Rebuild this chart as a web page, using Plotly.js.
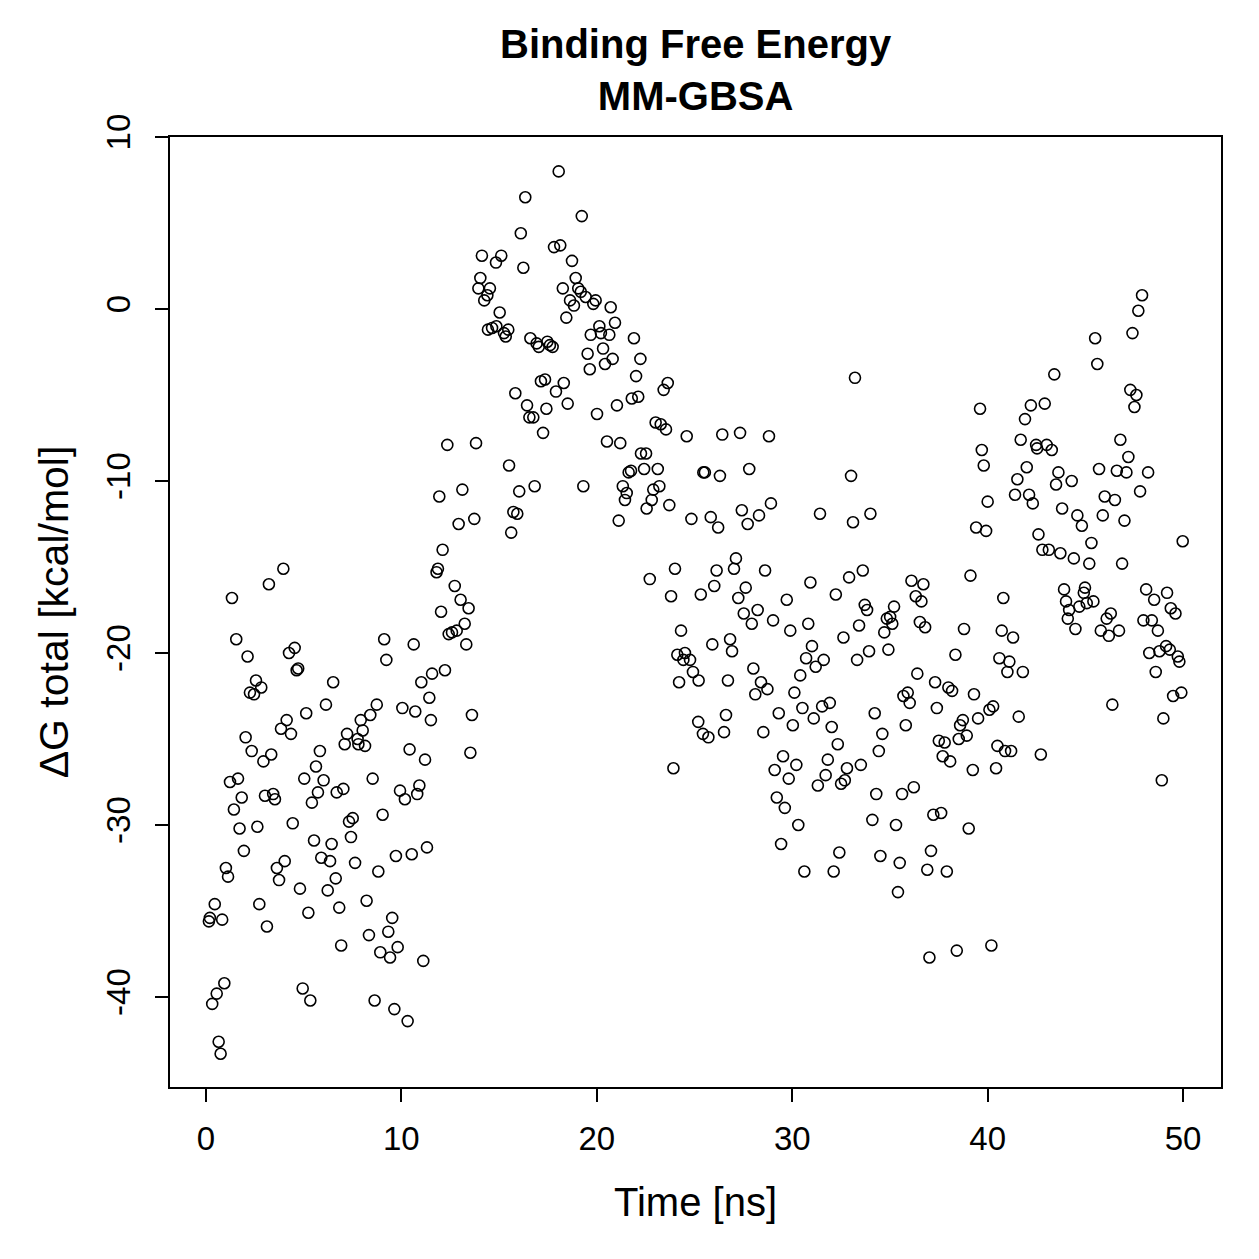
<!DOCTYPE html>
<html>
<head>
<meta charset="utf-8">
<script src="https://cdn.plot.ly/plotly-3.0.1.min.js"></script>
<style>html,body{margin:0;padding:0;background:#fff;}#chart{width:1259px;height:1259px;}</style>
</head>
<body>
<div id="chart"></div>
<script>
// Time [ns]
const timeNs = [
0.15,0.20,0.32,0.45,0.55,0.65,0.75,0.83,0.94,1.02,
1.13,1.23,1.33,1.43,1.55,1.64,1.72,1.83,1.94,2.03,
2.13,2.25,2.34,2.46,2.56,2.63,2.73,2.83,2.94,3.02,
3.12,3.22,3.34,3.44,3.53,3.63,3.74,3.84,3.96,4.03,
4.13,4.25,4.35,4.44,4.54,4.64,4.72,4.81,4.95,5.03,
5.13,5.24,5.34,5.42,5.53,5.63,5.73,5.83,5.90,6.02,
6.14,6.23,6.35,6.43,6.51,6.64,6.69,6.82,6.92,7.03,
7.10,7.22,7.32,7.42,7.51,7.63,7.76,7.80,7.92,8.02,
8.14,8.22,8.34,8.41,8.53,8.63,8.74,8.82,8.92,9.04,
9.12,9.23,9.33,9.42,9.53,9.64,9.72,9.81,9.93,10.05,
10.18,10.32,10.42,10.53,10.63,10.71,10.81,10.92,11.02,11.12,
11.21,11.31,11.43,11.51,11.57,11.80,11.87,11.94,12.03,12.11,
12.23,12.35,12.42,12.59,12.73,12.83,12.93,13.03,13.12,13.24,
13.32,13.44,13.53,13.61,13.73,13.82,13.94,14.04,14.12,14.24,
14.40,14.43,14.53,14.64,14.84,14.86,15.03,15.11,15.25,15.34,
15.47,15.51,15.62,15.73,15.83,15.93,16.03,16.11,16.24,16.34,
16.43,16.55,16.60,16.75,16.82,16.92,17.03,17.14,17.25,17.35,
17.42,17.47,17.60,17.74,17.81,17.91,18.05,18.13,18.26,18.31,
18.44,18.51,18.63,18.73,18.83,18.92,19.05,19.18,19.23,19.31,
19.43,19.53,19.64,19.69,19.82,19.94,20.01,20.13,20.21,20.32,
20.42,20.52,20.64,20.71,20.81,20.93,21.03,21.12,21.20,21.33,
21.44,21.53,21.63,21.75,21.79,21.90,22.01,22.12,22.23,22.26,
22.42,22.52,22.55,22.71,22.81,22.89,23.01,23.12,23.20,23.27,
23.42,23.54,23.63,23.71,23.80,23.92,24.00,24.12,24.21,24.31,
24.43,24.51,24.60,24.77,24.84,24.92,25.19,25.21,25.32,25.43,
25.45,25.53,25.71,25.83,25.91,26.01,26.13,26.21,26.30,26.42,
26.51,26.61,26.71,26.82,26.92,27.02,27.12,27.24,27.33,27.42,
27.52,27.62,27.72,27.80,27.93,28.01,28.11,28.23,28.30,28.40,
28.52,28.61,28.73,28.81,28.91,29.02,29.10,29.21,29.31,29.43,
29.53,29.62,29.72,29.82,29.90,30.03,30.11,30.21,30.31,30.41,
30.52,30.62,30.71,30.82,30.93,31.01,31.10,31.20,31.31,31.42,
31.53,31.61,31.71,31.82,31.92,32.02,32.12,32.23,32.33,32.41,
32.50,32.62,32.69,32.80,32.91,33.01,33.11,33.21,33.32,33.42,
33.51,33.61,33.71,33.83,33.93,34.00,34.10,34.22,34.30,34.43,
34.51,34.61,34.71,34.84,34.92,35.01,35.12,35.21,35.31,35.41,
35.50,35.62,35.69,35.81,35.91,36.01,36.10,36.22,36.32,36.40,
36.53,36.61,36.71,36.80,36.91,37.02,37.10,37.22,37.31,37.40,
37.50,37.62,37.70,37.80,37.91,37.99,38.08,38.18,38.35,38.42,
38.52,38.59,38.73,38.79,38.93,39.03,39.12,39.24,39.30,39.41,
39.51,39.61,39.70,39.80,39.92,40.00,40.09,40.19,40.28,40.43,
40.50,40.60,40.72,40.80,40.89,41.01,41.11,41.20,41.30,41.40,
41.52,41.59,41.69,41.80,41.91,42.00,42.12,42.21,42.31,42.48,
42.53,42.60,42.72,42.80,42.92,43.02,43.13,43.28,43.41,43.50,
43.62,43.72,43.81,43.91,44.01,44.10,44.17,44.30,44.41,44.49,
44.59,44.69,44.82,44.92,44.98,45.07,45.20,45.31,45.41,45.50,
45.61,45.70,45.79,45.89,45.99,46.09,46.20,46.30,46.38,46.51,
46.61,46.72,46.79,46.88,47.00,47.10,47.20,47.30,47.41,47.51,
47.61,47.71,47.80,47.90,47.97,48.11,48.21,48.27,48.40,48.52,
48.60,48.71,48.79,48.91,48.99,49.13,49.18,49.32,49.37,49.49,
49.61,49.73,49.81,49.91,49.98
];

// ΔG total [kcal/mol]
const deltaG = [
-35.6,-35.4,-40.4,-34.6,-39.8,-42.6,-43.3,-35.5,-39.2,-32.5,
-33.0,-27.5,-16.8,-29.1,-19.2,-27.3,-30.2,-28.4,-31.5,-24.9,
-20.2,-22.3,-25.7,-22.4,-21.6,-30.1,-34.6,-22.0,-26.3,-28.3,
-35.9,-16.0,-25.9,-28.2,-28.5,-32.5,-33.2,-24.4,-15.1,-32.1,
-23.9,-20.0,-24.7,-29.9,-19.7,-21.0,-20.9,-33.7,-39.5,-27.3,
-23.5,-35.1,-40.2,-28.7,-30.9,-26.6,-28.1,-25.7,-31.9,-27.4,
-23.0,-33.8,-32.1,-31.1,-21.7,-33.1,-28.1,-34.8,-37.0,-27.9,
-25.3,-24.7,-29.8,-30.7,-29.6,-32.2,-25.0,-25.3,-23.9,-24.5,
-25.4,-34.4,-36.4,-23.6,-27.3,-40.2,-23.0,-32.7,-37.4,-29.4,
-19.2,-20.4,-36.2,-37.7,-35.4,-40.7,-31.8,-37.1,-28.0,-23.2,
-28.5,-41.4,-25.6,-31.7,-19.5,-23.4,-28.2,-27.7,-21.7,-37.9,
-26.2,-31.3,-22.6,-23.9,-21.2,-15.3,-15.1,-10.9,-17.6,-14.0,
-21.0,-7.9,-18.9,-18.8,-16.1,-18.7,-12.5,-16.9,-10.5,-18.3,
-19.5,-17.4,-25.8,-23.6,-12.2,-7.8,1.2,1.8,3.1,0.5,
0.8,-1.2,1.2,-1.1,2.7,-1.0,-0.2,3.1,-1.4,-1.6,
-1.2,-9.1,-13.0,-11.8,-4.9,-11.9,-10.6,4.4,2.4,6.5,
-5.6,-6.3,-1.7,-6.3,-10.3,-2.0,-2.2,-4.2,-7.2,-4.1,
-5.8,-1.9,-2.1,-2.2,3.6,-4.8,8.0,3.7,1.2,-4.3,
-0.5,-5.5,0.5,2.8,0.2,1.8,1.2,1.0,5.4,-10.3,
0.7,-2.6,-3.5,-1.5,0.3,0.5,-6.1,-1.0,-1.4,-2.3,
-3.2,-7.7,-1.5,0.1,-2.9,-0.8,-5.6,-12.3,-7.8,-10.3,
-11.1,-10.7,-9.5,-9.4,-5.2,-1.7,-3.9,-5.1,-2.9,-8.4,
-9.3,-8.4,-11.6,-15.7,-11.1,-10.5,-6.6,-9.3,-10.3,-6.7,
-4.7,-7.0,-4.3,-11.4,-16.7,-26.7,-15.1,-20.1,-21.7,-18.7,
-20.4,-20.0,-7.4,-20.4,-12.2,-21.1,-24.0,-21.6,-16.6,-24.7,
-9.5,-9.5,-24.9,-12.1,-19.5,-16.1,-15.2,-12.7,-9.7,-7.3,
-24.6,-23.6,-21.6,-19.2,-19.9,-15.1,-14.5,-16.8,-7.2,-11.7,
-17.7,-16.2,-12.5,-9.3,-18.3,-20.9,-22.4,-17.5,-12.0,-21.7,
-24.6,-15.2,-22.1,-7.4,-11.3,-18.1,-26.8,-28.4,-23.5,-31.1,
-26.0,-29.0,-16.9,-27.3,-18.7,-24.2,-22.3,-26.5,-30.0,-21.3,
-23.2,-32.7,-20.3,-18.3,-15.9,-19.6,-23.8,-20.8,-27.7,-11.9,
-23.1,-20.4,-27.1,-26.2,-22.9,-24.3,-32.7,-16.6,-25.3,-31.6,
-27.6,-19.1,-27.4,-26.7,-15.6,-9.7,-12.4,-4.0,-20.4,-18.4,
-26.5,-15.2,-17.2,-17.5,-19.9,-11.9,-29.7,-23.5,-28.2,-25.7,
-31.8,-24.7,-18.8,-18.0,-19.8,-17.9,-18.3,-17.3,-30.0,-33.9,
-32.2,-28.2,-22.5,-24.2,-22.3,-22.9,-15.8,-27.8,-16.7,-21.2,
-18.2,-17.0,-16.0,-18.5,-32.6,-37.7,-31.5,-29.4,-21.7,-23.2,
-25.1,-29.3,-26.0,-25.2,-32.7,-22.0,-26.3,-22.2,-20.1,-37.3,
-25.0,-24.2,-23.9,-18.6,-24.8,-30.2,-15.5,-26.8,-22.4,-12.7,
-23.8,-5.8,-8.2,-9.1,-12.9,-11.2,-23.3,-37.0,-23.1,-26.7,
-25.4,-20.3,-18.7,-16.8,-25.7,-21.1,-20.5,-25.7,-19.1,-10.8,
-9.9,-23.7,-7.6,-21.1,-6.4,-9.2,-10.8,-5.6,-11.3,-7.9,
-8.1,-13.1,-25.9,-14.0,-5.5,-7.9,-14.0,-8.2,-3.8,-10.2,
-9.5,-14.2,-11.6,-16.3,-17.0,-18.0,-17.5,-10.0,-14.5,-18.6,
-12.0,-17.3,-12.6,-16.5,-16.2,-17.1,-14.8,-13.6,-17.0,-1.7,
-3.2,-9.3,-18.7,-12.0,-10.9,-18.0,-19.0,-17.7,-23.0,-11.1,
-9.4,-18.7,-7.6,-14.8,-12.3,-9.5,-8.6,-4.7,-1.4,-5.7,
-5.0,-0.1,-10.6,0.8,-18.1,-16.3,-9.5,-20.0,-18.1,-16.9,
-21.1,-18.7,-19.9,-27.4,-23.8,-19.6,-16.5,-19.8,-17.4,-22.5,
-17.7,-20.2,-20.5,-22.3,-13.5
];

const xTickVals = [0, 10, 20, 30, 40, 50];
const xTickText = ['0', '10', '20', '30', '40', '50'];
const yTickVals = [-40, -30, -20, -10, 0, 10];
const yTickText = ['-40', '-30', '-20', '-10', '0', '10'];

const FONT = '"Liberation Sans", Arial, Helvetica, sans-serif';

const trace = {
  x: timeNs,
  y: deltaG,
  type: 'scatter',
  mode: 'markers',
  marker: {
    symbol: 'circle-open',
    size: 11,
    color: '#000',
    line: {color: '#000', width: 1.6}
  },
  hoverinfo: 'x+y'
};

const layout = {
  width: 1259,
  height: 1259,
  paper_bgcolor: '#fff',
  plot_bgcolor: '#fff',
  showlegend: false,
  margin: {l: 170, r: 38, t: 137, b: 172, pad: 0},
  font: {family: FONT, color: '#000', size: 33},
  title: {
    text: '<b>Binding Free Energy</b><br><b>MM-GBSA</b>',
    font: {family: FONT, size: 40, color: '#000'},
    x: 0.5525, xanchor: 'center',
    y: 0.954, yanchor: 'top', yref: 'container'
  },
  xaxis: {
    range: [-1.84, 51.94],
    tickmode: 'array',
    tickvals: xTickVals,
    ticktext: xTickText,
    ticks: 'outside',
    ticklen: 13,
    tickwidth: 2,
    tickcolor: '#000',
    ticklabelstandoff: 8,
    showline: true,
    mirror: true,
    linecolor: '#000',
    linewidth: 2,
    showgrid: false,
    zeroline: false,
    tickfont: {family: FONT, size: 33, color: '#000'},
    title: {text: 'Time [ns]', font: {family: FONT, size: 40, color: '#000'}, standoff: 32}
  },
  yaxis: {
    range: [-45.23, 10.0],
    tickmode: 'array',
    tickvals: yTickVals,
    ticktext: yTickText,
    tickangle: -90,
    ticks: 'outside',
    ticklen: 13,
    tickwidth: 2,
    tickcolor: '#000',
    ticklabelstandoff: 12,
    showline: true,
    mirror: true,
    linecolor: '#000',
    linewidth: 2,
    showgrid: false,
    zeroline: false,
    tickfont: {family: FONT, size: 33, color: '#000'},
    title: {text: 'ΔG total [kcal/mol]', font: {family: FONT, size: 41, color: '#000'}, standoff: 18}
  }
};

Plotly.newPlot('chart', [trace], layout, {displayModeBar: false, staticPlot: true});
</script>
</body>
</html>
